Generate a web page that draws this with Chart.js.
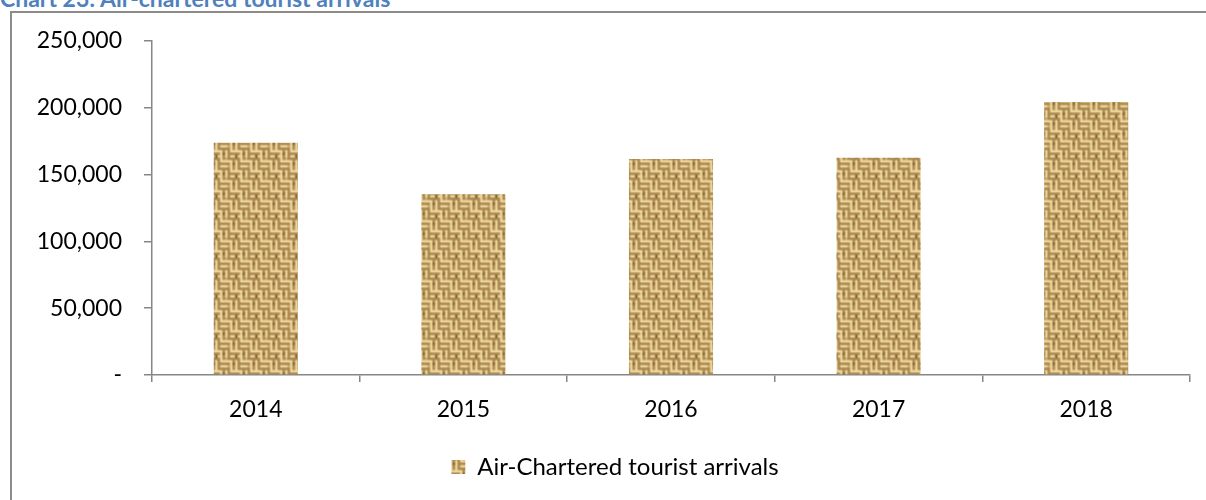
<!DOCTYPE html>
<html><head><meta charset="utf-8">
<script src="https://cdn.jsdelivr.net/npm/chart.js@4"></script>
<style>
html,body{margin:0;padding:0;background:#fff;}
#wrap{position:relative;width:1206px;height:500px;overflow:hidden;}
#frame{position:absolute;left:10px;top:11px;width:1300px;height:600px;border-left:2px solid #8c8c8c;border-top:2px solid #8c8c8c;}
#title{position:absolute;left:0;top:-16px;font:bold 23px Lato;color:#4F81BD;white-space:nowrap;}
canvas{position:absolute;left:0;top:0;}
</style></head><body>
<div id="wrap"><div id="frame"></div><div id="title">Chart 23: Air-chartered tourist arrivals</div><canvas id="c" width="1206" height="500"></canvas></div>
<script>
const categories = ['2014', '2015', '2016', '2017', '2018'];
const arrivals = [173800, 135300, 161700, 162700, 204300];
const seriesName = 'Air-Chartered tourist arrivals';
const yMin = 0, yMax = 250000, yStep = 50000;

function makePattern() {
  const n = 8;
  const p = document.createElement('canvas');
  p.width = n; p.height = n;
  const g = p.getContext('2d');
  for (let y = 0; y < n; y++) for (let x = 0; x < n; x++) {
    const horiz = ((x >> 2) + (y >> 2)) % 2 === 0;
    const k = horiz ? y % 2 : x % 2;
    g.fillStyle = k === 0 ? '#efd9a0' : '#a7844a';
    g.fillRect(x, y, 1, 1);
  }
  g.fillStyle = '#7a5a29';
  g.fillRect(1, 5, 1, 1); g.fillRect(5, 1, 1, 1); g.fillRect(6, 6, 1, 1);
  g.fillStyle = '#c9ab6d';
  g.fillRect(3, 2, 1, 1); g.fillRect(2, 7, 1, 1);
  const pat = g.createPattern(p, 'repeat');
  pat.setTransform(new DOMMatrix().scale(2.5));
  return pat;
}

const FONT = {family: 'Lato', size: 23};
const axisGrey = '#868686';
const ctx = document.getElementById('c').getContext('2d');
const pattern = makePattern();

const legendShift = {
  id: 'legendShift',
  afterLayout(chart) {
    const l = chart.legend;
    if (l) { l.left += 20; l.right += 20; }
  }
};

new Chart(ctx, {
  type: 'bar',
  data: {
    labels: categories,
    datasets: [{
      label: seriesName,
      data: arrivals,
      backgroundColor: pattern,
      borderWidth: 0,
      categoryPercentage: 1,
      barPercentage: 0.405
    }]
  },
  plugins: [legendShift],
  options: {
    responsive: false,
    animation: false,
    layout: {padding: {top: 41, right: 16, left: 0, bottom: 11}},
    plugins: {
      tooltip: {enabled: false},
      legend: {
        position: 'bottom',
        labels: {font: {family: 'Lato', size: 24}, color: '#000', boxWidth: 14, boxHeight: 14, padding: 10}
      }
    },
    scales: {
      y: {
        min: yMin, max: yMax,
        ticks: {
          stepSize: yStep, font: FONT, color: '#000', padding: 22,
          callback: v => v === 0 ? '-' : v.toLocaleString('en-US')
        },
        grid: {drawOnChartArea: false, drawTicks: true, tickLength: 8, color: axisGrey, lineWidth: 1.5},
        border: {color: axisGrey, width: 1.5},
        afterFit: s => { s.width = 152; }
      },
      x: {
        ticks: {font: FONT, color: '#000', padding: 14},
        grid: {drawOnChartArea: false, drawTicks: true, tickLength: 7, color: axisGrey, lineWidth: 1.5, offset: true},
        border: {color: axisGrey, width: 1.5},
        afterFit: s => { s.height = 70; }
      }
    }
  }
});
</script>
</body></html>
